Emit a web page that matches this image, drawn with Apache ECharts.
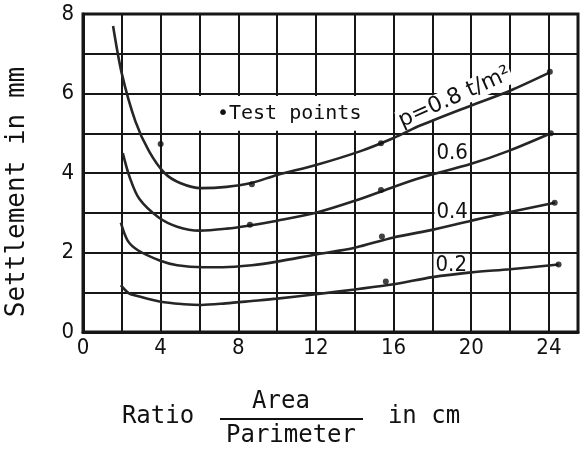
<!DOCTYPE html>
<html><head><meta charset="utf-8">
<script src="https://cdn.jsdelivr.net/npm/echarts@6/dist/echarts.min.js"></script>
<style>html,body{margin:0;padding:0;background:#fff}#c{width:583px;height:449px}</style>
</head><body><div id="c"></div>
<script>
// ---- data ----
const xTickLabels = [0, 4, 8, 12, 16, 20, 24];
const yTickLabels = [0, 2, 4, 6, 8];
const seriesNames = ['p=0.8 t/m²', '0.6', '0.4', '0.2'];
const curveP08 = [[1.55,7.7],[2.0,6.5],[2.7,5.3],[3.4,4.55],[4.2,4.0],[5.0,3.75],[6.1,3.62],[7.4,3.65],[8.6,3.74],[10,3.95],[12,4.2],[14.3,4.55],[16,4.88],[17.4,5.2],[20,5.7],[22,6.07],[24.05,6.53]];
const curveP06 = [[2.05,4.5],[2.4,3.9],[2.9,3.35],[3.9,2.88],[4.85,2.65],[6,2.55],[7.4,2.6],[8.6,2.68],[10,2.8],[12,3.0],[14,3.3],[16,3.65],[17.4,3.88],[20,4.23],[22,4.57],[24.1,5.0]];
const curveP04 = [[1.95,2.75],[2.3,2.3],[2.85,2.05],[3.95,1.8],[4.85,1.68],[6.2,1.63],[7.2,1.63],[8.7,1.68],[10,1.77],[12,1.95],[14,2.12],[16,2.38],[17.8,2.55],[20,2.8],[22,3.02],[24.3,3.25]];
const curveP02 = [[1.95,1.18],[2.35,0.98],[2.85,0.9],[4,0.76],[5.2,0.7],[6.1,0.68],[7.35,0.72],[8.7,0.78],[10,0.84],[12,0.95],[14,1.07],[16,1.2],[18,1.38],[20,1.5],[22,1.58],[24.5,1.7]];
const testPoints = [[4.0,4.73],[8.7,3.72],[15.35,4.75],[24.05,6.55],[8.6,2.7],[15.35,3.57],[24.1,5.0],[15.4,2.4],[24.3,3.25],[15.6,1.27],[24.5,1.7]];

const FONT = '"DejaVu Sans Mono"';
const FONT_NUM = '"DejaVu Sans Condensed", "DejaVu Sans"';
const INK = '#161616';

const chart = echarts.init(document.getElementById('c'), null, {renderer: 'canvas'});

function lineSeries(name, data) {
  return {
    name, type: 'line', data, smooth: 0.3,
    showSymbol: false, symbol: 'none', z: 3,
    lineStyle: {color: '#262626', width: 2.6}
  };
}

const option = {
  backgroundColor: '#fff',
  animation: false,
  grid: {left: 83, top: 14, right: 5, bottom: 117, show: true, borderColor: INK, borderWidth: 3, backgroundColor: 'transparent'},
  xAxis: {
    type: 'value', min: 0, max: 25.5, interval: 2,
    axisLine: {show: true, lineStyle: {color: INK, width: 3}},
    axisTick: {show: false},
    axisLabel: {
      margin: 5, color: '#111', fontSize: 22, fontFamily: FONT_NUM,
      formatter: v => xTickLabels.indexOf(v) >= 0 ? String(v) : '',
      showMaxLabel: false
    },
    splitLine: {show: true, lineStyle: {color: INK, width: 2}}
  },
  yAxis: {
    type: 'value', min: 0, max: 8, interval: 1,
    axisLine: {show: true, lineStyle: {color: INK, width: 3}},
    axisTick: {show: false},
    axisLabel: {
      margin: 9, color: '#111', fontSize: 22, fontFamily: FONT_NUM,
      formatter: v => yTickLabels.indexOf(v) >= 0 ? String(v) : ''
    },
    splitLine: {show: true, lineStyle: {color: INK, width: 2}}
  },
  series: [
    lineSeries(seriesNames[0], curveP08),
    lineSeries(seriesNames[1], curveP06),
    lineSeries(seriesNames[2], curveP04),
    lineSeries(seriesNames[3], curveP02),
    {name: 'Test points', type: 'scatter', data: testPoints, symbol: 'circle', symbolSize: 6,
     itemStyle: {color: '#111'}, z: 4}
  ]
};
chart.setOption(option);

// ---- annotations (positions in data coordinates) ----
const P = (x, y) => chart.convertToPixel({gridIndex: 0}, [x, y]);
const boxA = P(5.85, 5.94), boxB = P(15.88, 5.06);
const tp = P(6.9, 5.5);
const l08 = P(19.15, 5.9);
const l06 = P(19.02, 4.5);
const l04 = P(19.02, 3.02);
const l02 = P(18.97, 1.69);

function curveLabel(text, pt) {
  return {
    type: 'text', x: pt[0], y: pt[1], z: 2,
    style: {text, font: '22px ' + FONT_NUM, fill: '#111', align: 'center', verticalAlign: 'middle',
            backgroundColor: '#fff', padding: [0, 2]}
  };
}

chart.setOption({
  graphic: [
    {type: 'rect', z: 1, shape: {x: boxA[0], y: boxA[1], width: boxB[0] - boxA[0], height: boxB[1] - boxA[1]},
     style: {fill: '#fff'}},
    {type: 'text', x: tp[0], y: tp[1], z: 10,
     style: {text: '•Test points', font: '20px ' + FONT, fill: '#111', align: 'left', verticalAlign: 'middle'}},
    {type: 'text', x: l08[0], y: l08[1], z: 2, rotation: 0.42,
     style: {text: 'p=0.8 t/m²', font: '22px "DejaVu Sans"', fill: '#111', align: 'center', verticalAlign: 'middle',
             backgroundColor: '#fff', padding: [0, 1]}},
    curveLabel('0.6', l06),
    curveLabel('0.4', l04),
    curveLabel('0.2', l02),
    // y axis title
    {type: 'text', x: 17, y: 192, rotation: Math.PI / 2,
     style: {text: 'Settlement in mm', font: '26px ' + FONT, fill: '#111', align: 'center', verticalAlign: 'middle'}},
    // x axis title
    {type: 'text', x: 158, y: 417,
     style: {text: 'Ratio', font: '24px ' + FONT, fill: '#111', align: 'center', verticalAlign: 'middle'}},
    {type: 'text', x: 281, y: 402,
     style: {text: 'Area', font: '24px ' + FONT, fill: '#111', align: 'center', verticalAlign: 'middle'}},
    {type: 'line', shape: {x1: 220, y1: 419, x2: 363, y2: 419}, style: {stroke: '#111', lineWidth: 2}},
    {type: 'text', x: 291, y: 436,
     style: {text: 'Parimeter', font: '24px ' + FONT, fill: '#111', align: 'center', verticalAlign: 'middle'}},
    {type: 'text', x: 424, y: 417,
     style: {text: 'in cm', font: '24px ' + FONT, fill: '#111', align: 'center', verticalAlign: 'middle'}}
  ]
});
</script>
</body></html>
